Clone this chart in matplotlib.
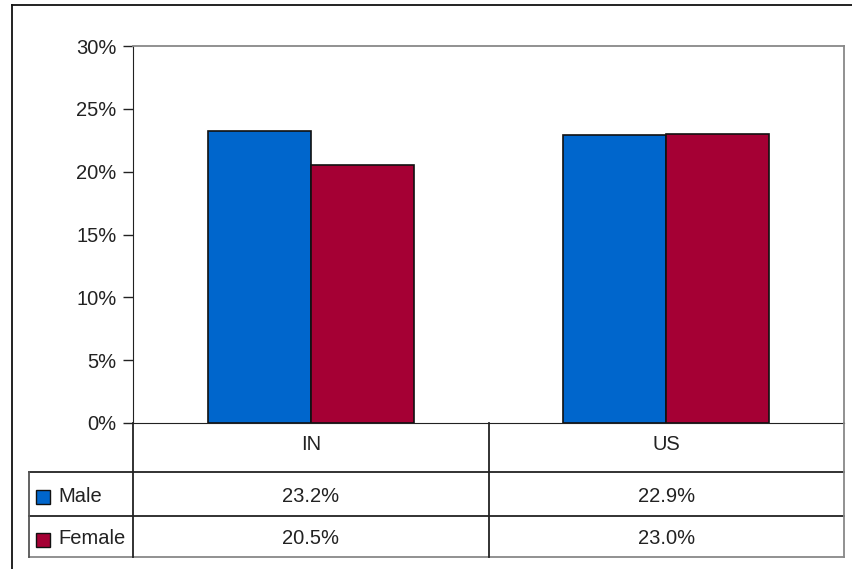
import matplotlib
matplotlib.use("Agg")
import matplotlib.pyplot as plt
import matplotlib.transforms as mtransforms
from matplotlib.lines import Line2D
from matplotlib.patches import Rectangle

plt.rcParams["font.family"] = ["Liberation Sans", "DejaVu Sans"]

categories = ["IN", "US"]
series_names = ["Male", "Female"]
male = [23.2, 22.9]
female = [20.5, 23.0]
colors = ["#0066CC", "#A50034"]
yticks = [0, 5, 10, 15, 20, 25, 30]

W, H = 852, 569
fig = plt.figure(figsize=(W / 100, H / 100), dpi=100)


def fx(px):
    return px / W


def fy(py):
    return 1 - py / H


# plot area in pixels
L, R, T, B = 133, 844, 46, 423
ax = fig.add_axes([fx(L), fy(B), fx(R) - fx(L), fy(T) - fy(B)])

bw = 0.29
x = range(len(categories))
for i, (vals, col) in enumerate(zip([male, female], colors)):
    offs = -bw / 2 if i == 0 else bw / 2
    ax.bar([k + offs for k in x], vals, width=bw, color=col,
           edgecolor="#111111", linewidth=1.2, zorder=3)

ax.set_xlim(-0.5, len(categories) - 0.5)
ax.set_ylim(0, 30)
ax.set_yticks(yticks)
ax.set_yticklabels([f"{t}%" for t in yticks], fontsize=14.5, color="#222222")
ax.set_xticks([])
ax.tick_params(axis="y", direction="out", length=7, width=1, pad=5,
               color="#222222")
for side in ["top", "right"]:
    ax.spines[side].set_color("#888888")
    ax.spines[side].set_linewidth(1.3)
ax.spines["left"].set_color("#222222")
ax.spines["bottom"].set_color("#222222")

# outer frame
lw = 1.3
fig.add_artist(Line2D([fx(12), 1], [fy(5), fy(5)], color="#111111", lw=lw))
fig.add_artist(Line2D([fx(12), fx(12)], [fy(5), 0], color="#111111", lw=lw))

# data table under the chart
TL = 29
rows = [423, 472, 516, 557]
for yy in rows[1:]:
    c = "#888888" if yy == rows[-1] else "#222222"
    fig.add_artist(Line2D([fx(TL), fx(R)], [fy(yy), fy(yy)], color=c, lw=lw))
fig.add_artist(Line2D([fx(L), fx(L)], [fy(423), fy(557)], color="#222222", lw=lw))
fig.add_artist(Line2D([fx(TL), fx(TL)], [fy(472), fy(557)], color="#555555", lw=lw))
fig.add_artist(Line2D([fx(R), fx(R)], [fy(423), fy(557)], color="#888888", lw=lw))
mid = (L + R) / 2
fig.add_artist(Line2D([fx(mid), fx(mid)], [fy(423), fy(557)], color="#222222", lw=lw))

trans = mtransforms.blended_transform_factory(ax.transData, fig.transFigure)
for k, cat in enumerate(categories):
    fig.text(k, fy(445), cat, transform=trans, ha="center", va="center",
             fontsize=14.5, color="#222222")
    for r, vals in enumerate([male, female]):
        fig.text(k, fy((rows[r + 1] + rows[r + 2]) / 2 + 2.5), f"{vals[k]:.1f}%",
                 transform=trans, ha="center", va="center", fontsize=14.5,
                 color="#222222")

for r, (name, col) in enumerate(zip(series_names, colors)):
    yc = (rows[r + 1] + rows[r + 2]) / 2 + 2.5
    fig.add_artist(Rectangle((fx(36), fy(yc + 7.5)), fx(14), fy(0) - fy(14),
                             facecolor=col, edgecolor="#111111", lw=1.0,
                             transform=fig.transFigure))
    fig.text(fx(58), fy(yc), name, ha="left", va="center", fontsize=14.5,
             color="#222222")

fig.savefig("out.png", dpi=100)
